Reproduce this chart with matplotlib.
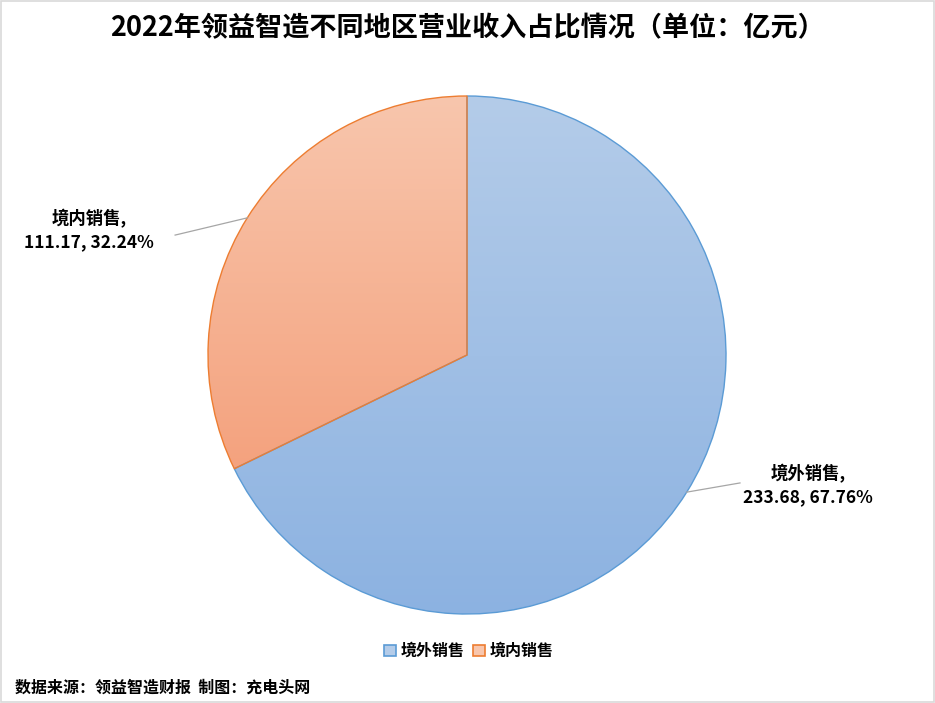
import numpy as np
import matplotlib.pyplot as plt
from matplotlib.colors import LinearSegmentedColormap
from matplotlib.patches import Rectangle

plt.rcParams['font.family'] = ['Noto Sans CJK SC', 'DejaVu Sans']

# data
categories = ["境外销售", "境内销售"]
values = [233.68, 111.17]
percents = ["67.76%", "32.24%"]

title = "2022年领益智造不同地区营业收入占比情况（单位：亿元）"
source = "数据来源：领益智造财报  制图：充电头网"

W, H = 935, 703
fig = plt.figure(figsize=(W / 100, H / 100), dpi=100)

# pie axes: center (467, 355) px, radius 259 px
cx, cy, r = 467, 355, 259
ax = fig.add_axes([(cx - r) / W, (H - cy - r) / H, 2 * r / W, 2 * r / H])

edge_cols = ["#5b9bd5", "#ed7d31"]
grads = [("#b4cce9", "#8cb2e1"), ("#f8c6ad", "#f4a27e")]

wedges, _ = ax.pie(values, startangle=90, counterclock=False,
                   colors=["none", "none"],
                   wedgeprops=dict(edgecolor="none", linewidth=0))
ax.set_aspect("equal")
ax.axis("off")

# gradient fills clipped to each wedge
for w, (c_top, c_bot), ec in zip(wedges, grads, edge_cols):
    cmap = LinearSegmentedColormap.from_list("g", [c_bot, c_top])
    verts = w.get_patch_transform().transform(w.get_path().vertices)
    y0, y1 = verts[:, 1].min(), verts[:, 1].max()
    grad = np.linspace(0, 1, 256).reshape(-1, 1)
    im = ax.imshow(grad, extent=[-1, 1, y0, y1], origin="lower",
                   cmap=cmap, aspect="auto", zorder=1)
    im.set_clip_path(w)
    w.set_edgecolor(ec)
    w.set_linewidth(1.0)
    w.set_zorder(2)
ax.set_xlim(-1, 1)
ax.set_ylim(-1, 1)

# data labels with leader lines
label_pos = [(1.317, -0.502), (-1.46, 0.483)]
line_end = [(1.054, -0.494), (-1.127, 0.463)]
for w, cat, val, pct, (tx, ty), (lx, ly) in zip(wedges, categories, values,
                                                percents, label_pos, line_end):
    mid = np.deg2rad((w.theta1 + w.theta2) / 2)
    ax.plot([np.cos(mid), lx], [np.sin(mid), ly], color="#a6a6a6",
            linewidth=0.9, clip_on=False, zorder=3)
    ax.text(tx, ty, f"{cat},\n{val:.2f}, {pct}", ha="center", va="center",
            multialignment="center", fontsize=12.5, fontweight="bold",
            linespacing=1.35, clip_on=False)

fig.text(0.5, 1 - 28 / H, title, ha="center", va="center",
         fontsize=19.5, fontweight="bold")

# legend
handles = [Rectangle((0, 0), 1, 1, facecolor=g[0], edgecolor=e, linewidth=1.2)
           for g, e in zip(grads, edge_cols)]
fig.legend(handles, categories, loc="center", bbox_to_anchor=(469 / W, 1 - 651 / H),
           ncol=2, frameon=False, handlelength=0.75,
           handleheight=0.75, handletextpad=0.3, columnspacing=0.5,
           prop=dict(weight="bold", size=11.5))

fig.text(15 / W, 1 - 688 / H, source, ha="left", va="center",
         fontsize=11.5, fontweight="bold")

# light border
fig.add_artist(Rectangle((0.001, 0.001), 0.998, 0.998, transform=fig.transFigure,
                         fill=False, edgecolor="#d9d9d9", linewidth=1.2))

fig.savefig("out.png", dpi=100, facecolor="white")
